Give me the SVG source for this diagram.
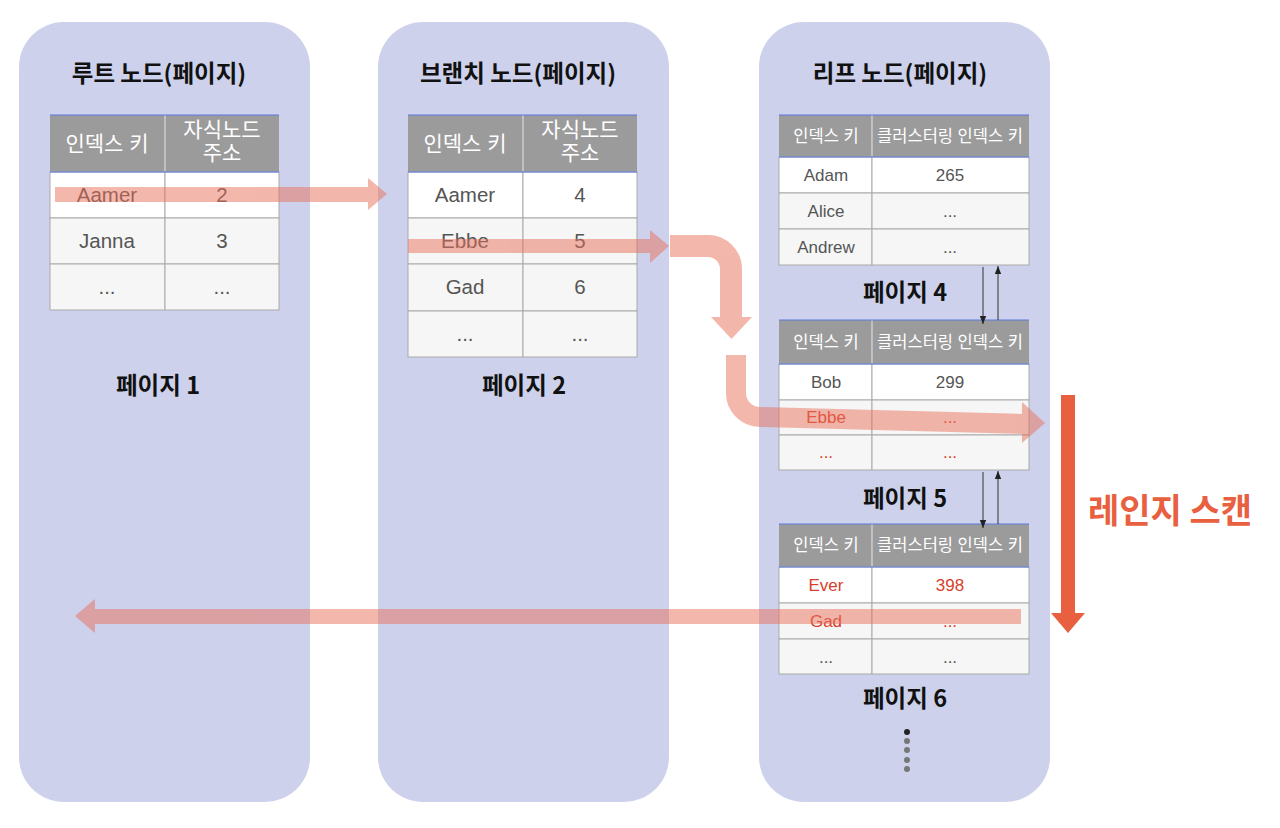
<svg xmlns="http://www.w3.org/2000/svg" width="1280" height="828" viewBox="0 0 1280 828">
<defs>
<style>
.panel{fill:#cdd1ec}
.hdr{fill:#9b9b9b}
.c{stroke:#aaaaaa;stroke-width:1}
.w{fill:#ffffff}
.g{fill:#f6f6f6}
.bl{stroke:#5b7be0;stroke-width:1.2}
.hv{stroke:#e6e6e6;stroke-width:1}
.t{font-family:"Liberation Sans","Noto Sans CJK KR",sans-serif;text-anchor:middle}
.ht{fill:#ffffff;font-size:21px}
.hs{fill:#ffffff;font-size:16.5px}
.rt{fill:#555555;font-size:20.5px}
.rs{fill:#555555;font-size:17px}
.red{fill:#d9402a}
.title{font-family:"Noto Sans CJK KR",sans-serif;font-weight:bold;fill:#111111;font-size:23.5px;text-anchor:middle}
.pa{fill:#e9705a}
.ps{stroke:#e9705a;fill:none}
.sm{stroke:#333333;stroke-width:1}
</style>
<marker id="ah" viewBox="0 0 8 8" refX="8" refY="4" markerWidth="8" markerHeight="8" markerUnits="userSpaceOnUse" orient="auto">
<path d="M0,0.8 L8,4 L0,7.2 Z" fill="#222222"/>
</marker>
</defs>
<rect width="1280" height="828" fill="#ffffff"/>

<g id="panel-root">
<rect class="panel" x="19" y="22" width="291" height="780" rx="45"/>
<text class="title" x="159" y="82">루트 노드(페이지)</text>
<text class="title" x="158" y="394">페이지 1</text>
</g>
<g id="panel-branch">
<rect class="panel" x="378" y="22" width="291" height="780" rx="45"/>
<text class="title" x="518" y="82">브랜치 노드(페이지)</text>
<text class="title" x="524" y="394">페이지 2</text>
</g>
<g id="panel-leaf">
<rect class="panel" x="759" y="22" width="291" height="780" rx="45"/>
<text class="title" x="900" y="82">리프 노드(페이지)</text>
<text class="title" x="905" y="301">페이지 4</text>
<text class="title" x="905" y="507">페이지 5</text>
<text class="title" x="905" y="707">페이지 6</text>
<circle cx="907" cy="732" r="3" fill="#222222"/>
<circle cx="907" cy="741" r="3" fill="#777777"/>
<circle cx="907" cy="750" r="3" fill="#777777"/>
<circle cx="907" cy="760" r="3" fill="#777777"/>
<circle cx="907" cy="769" r="3" fill="#777777"/>
</g>

<g id="page1">
<rect class="hdr" x="50" y="115" width="229" height="57"/>
<line class="hv" x1="165" y1="115" x2="165" y2="172"/>
<line class="bl" x1="50" y1="115" x2="279" y2="115"/>
<rect class="c w" x="50" y="172" width="115" height="46"/><rect class="c w" x="165" y="172" width="114" height="46"/>
<rect class="c g" x="50" y="218" width="115" height="46"/><rect class="c g" x="165" y="218" width="114" height="46"/>
<rect class="c g" x="50" y="264" width="115" height="46"/><rect class="c g" x="165" y="264" width="114" height="46"/>
<line class="bl" x1="50" y1="172" x2="279" y2="172"/>
<text class="t ht" x="107" y="151">인덱스 키</text>
<text class="t ht" x="222" y="137">자식노드</text>
<text class="t ht" x="222" y="160">주소</text>
<text class="t rt" x="107" y="202">Aamer</text><text class="t rt" x="222" y="202">2</text>
<text class="t rt" x="107" y="248">Janna</text><text class="t rt" x="222" y="248">3</text>
<text class="t rt" x="107" y="294">...</text><text class="t rt" x="222" y="294">...</text>
</g>

<g id="page2">
<rect class="hdr" x="408" y="115" width="229" height="57"/>
<line class="hv" x1="523" y1="115" x2="523" y2="172"/>
<line class="bl" x1="408" y1="115" x2="637" y2="115"/>
<rect class="c w" x="408" y="172" width="115" height="46"/><rect class="c w" x="523" y="172" width="114" height="46"/>
<rect class="c g" x="408" y="218" width="115" height="46"/><rect class="c g" x="523" y="218" width="114" height="46"/>
<rect class="c g" x="408" y="264" width="115" height="47"/><rect class="c g" x="523" y="264" width="114" height="47"/>
<rect class="c g" x="408" y="311" width="115" height="46"/><rect class="c g" x="523" y="311" width="114" height="46"/>
<line class="bl" x1="408" y1="172" x2="637" y2="172"/>
<text class="t ht" x="465" y="151">인덱스 키</text>
<text class="t ht" x="580" y="137">자식노드</text>
<text class="t ht" x="580" y="160">주소</text>
<text class="t rt" x="465" y="202">Aamer</text><text class="t rt" x="580" y="202">4</text>
<text class="t rt" x="465" y="248">Ebbe</text><text class="t rt" x="580" y="248">5</text>
<text class="t rt" x="465" y="294">Gad</text><text class="t rt" x="580" y="294">6</text>
<text class="t rt" x="465" y="341">...</text><text class="t rt" x="580" y="341">...</text>
</g>

<g id="page4">
<rect class="hdr" x="779" y="115" width="250" height="42"/>
<line class="hv" x1="872" y1="115" x2="872" y2="157"/>
<line class="bl" x1="779" y1="115" x2="1029" y2="115"/>
<rect class="c w" x="779" y="157" width="93" height="36"/><rect class="c w" x="872" y="157" width="157" height="36"/>
<rect class="c g" x="779" y="193" width="93" height="36"/><rect class="c g" x="872" y="193" width="157" height="36"/>
<rect class="c g" x="779" y="229" width="93" height="36"/><rect class="c g" x="872" y="229" width="157" height="36"/>
<line class="bl" x1="779" y1="157" x2="1029" y2="157"/>
<text class="t hs" x="826" y="142">인덱스 키</text>
<text class="t hs" x="950" y="142">클러스터링 인덱스 키</text>
<text class="t rs" x="826" y="181">Adam</text><text class="t rs" x="950" y="181">265</text>
<text class="t rs" x="826" y="217">Alice</text><text class="t rs" x="950" y="217">...</text>
<text class="t rs" x="826" y="253">Andrew</text><text class="t rs" x="950" y="253">...</text>
</g>

<g id="page5">
<rect class="hdr" x="779" y="320" width="250" height="44"/>
<line class="hv" x1="872" y1="320" x2="872" y2="364"/>
<line class="bl" x1="779" y1="320" x2="1029" y2="320"/>
<rect class="c w" x="779" y="364" width="93" height="36"/><rect class="c w" x="872" y="364" width="157" height="36"/>
<rect class="c g" x="779" y="400" width="93" height="35"/><rect class="c g" x="872" y="400" width="157" height="35"/>
<rect class="c g" x="779" y="435" width="93" height="35"/><rect class="c g" x="872" y="435" width="157" height="35"/>
<line class="bl" x1="779" y1="364" x2="1029" y2="364"/>
<text class="t hs" x="826" y="348">인덱스 키</text>
<text class="t hs" x="950" y="348">클러스터링 인덱스 키</text>
<text class="t rs" x="826" y="388">Bob</text><text class="t rs" x="950" y="388">299</text>
<text class="t rs red" x="826" y="423">Ebbe</text><text class="t rs red" x="950" y="423">...</text>
<text class="t rs red" x="826" y="458">...</text><text class="t rs red" x="950" y="458">...</text>
</g>

<g id="page6">
<rect class="hdr" x="779" y="524" width="250" height="43"/>
<line class="hv" x1="872" y1="524" x2="872" y2="567"/>
<line class="bl" x1="779" y1="524" x2="1029" y2="524"/>
<rect class="c w" x="779" y="567" width="93" height="36"/><rect class="c w" x="872" y="567" width="157" height="36"/>
<rect class="c g" x="779" y="603" width="93" height="36"/><rect class="c g" x="872" y="603" width="157" height="36"/>
<rect class="c g" x="779" y="639" width="93" height="35"/><rect class="c g" x="872" y="639" width="157" height="35"/>
<line class="bl" x1="779" y1="567" x2="1029" y2="567"/>
<text class="t hs" x="826" y="551">인덱스 키</text>
<text class="t hs" x="950" y="551">클러스터링 인덱스 키</text>
<text class="t rs red" x="826" y="591">Ever</text><text class="t rs red" x="950" y="591">398</text>
<text class="t rs red" x="826" y="627">Gad</text><text class="t rs red" x="950" y="627">...</text>
<text class="t rs" x="826" y="663">...</text><text class="t rs" x="950" y="663">...</text>
</g>

<g id="range-scan">
<rect x="1061" y="395" width="14" height="219" fill="#e8603f"/>
<polygon points="1051,613 1085,613 1068,633" fill="#e8603f"/>
<text x="1170" y="523" font-family="Noto Sans CJK KR,sans-serif" font-weight="bold" font-size="34" fill="#e8603f" text-anchor="middle">레인지 스캔</text>
</g>

<g id="connectors">
<g opacity="0.5">
<rect class="pa" x="55" y="187" width="313" height="15"/>
<polygon class="pa" points="368,178 368,210 387,194"/>
</g>
<g opacity="0.5">
<rect class="pa" x="408" y="239" width="242" height="14"/>
<polygon class="pa" points="650,230 650,263 669,246"/>
</g>
<g opacity="0.5">
<path class="ps" stroke-width="22" d="M670,246 H708 A23,23 0 0 1 731,269 V318"/>
<polygon class="pa" points="711,317 752,317 731.5,339"/>
</g>
<g opacity="0.5">
<path class="ps" stroke-width="20" d="M736,355 V393 A24,24 0 0 0 760,417 L1023,424"/>
<polygon class="pa" points="1022,402 1022,443 1045,423"/>
</g>
<g opacity="0.5">
<rect class="pa" x="95" y="609" width="926" height="15"/>
<polygon class="pa" points="95,599 95,633 75,616"/>
</g>
<line class="sm" x1="983" y1="267" x2="983" y2="324" marker-end="url(#ah)"/>
<line class="sm" x1="998" y1="320" x2="998" y2="266" marker-end="url(#ah)"/>
<line class="sm" x1="983" y1="472" x2="983" y2="528" marker-end="url(#ah)"/>
<line class="sm" x1="998" y1="524" x2="998" y2="471" marker-end="url(#ah)"/>
</g>
</svg>
